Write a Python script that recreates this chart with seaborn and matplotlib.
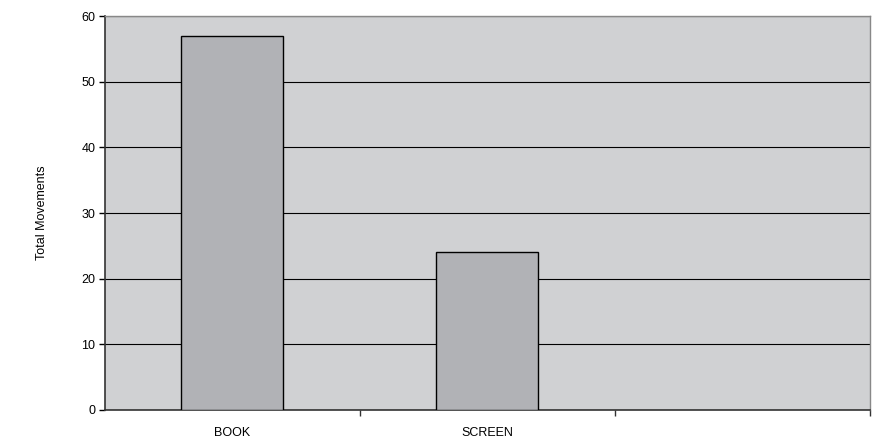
import numpy as np
import pandas as pd
import matplotlib
matplotlib.use("Agg")
import matplotlib.pyplot as plt
import seaborn as sns
from matplotlib.ticker import FixedLocator

categories = ["BOOK", "SCREEN"]
values = [57, 24]
y_ticks = [0, 10, 20, 30, 40, 50, 60]

sns.set_theme(style="white")
plt.rcParams["font.family"] = ["Liberation Sans", "DejaVu Sans"]

df = pd.DataFrame({"Medium": categories, "Total": values})

fig = plt.figure(figsize=(8.75, 4.38), dpi=100)
ax = fig.add_axes([0.12, 0.064, 0.874, 0.899])
ax.set_facecolor("#d0d1d3")

sns.barplot(data=df, x="Medium", y="Total", color="#b1b2b6", saturation=1,
            width=0.4, edgecolor="black", linewidth=1.0, ax=ax, zorder=3)

ax.set_xlim(-0.5, 2.5)
ax.set_ylim(0, 60)
ax.set_yticks(y_ticks)
ax.yaxis.grid(True, color="black", linewidth=0.8, zorder=1)
ax.set_axisbelow(True)

ax.set_xlabel("")
ax.set_ylabel("Total Movements", fontsize=9, labelpad=24, color="black")

ax.tick_params(axis="x", which="major", length=0, pad=12, labelsize=9,
               labelcolor="black")
ax.xaxis.set_minor_locator(FixedLocator([0.5, 1.5, 2.5]))
ax.tick_params(axis="x", which="minor", length=4, width=1, color="#333333",
               direction="out", bottom=True)
ax.tick_params(axis="y", which="major", length=4, width=1, color="black",
               direction="out", left=True, labelsize=9, pad=3,
               labelcolor="black")

for side in ["top", "right"]:
    ax.spines[side].set_color("#888888")
    ax.spines[side].set_linewidth(1)
for side in ["left", "bottom"]:
    ax.spines[side].set_color("#333333")
    ax.spines[side].set_linewidth(1.2)

fig.savefig("out.png", dpi=100)
